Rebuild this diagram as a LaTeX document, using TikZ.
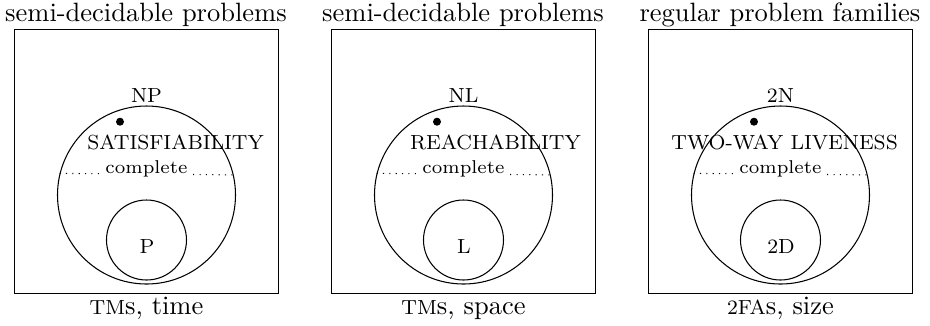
\documentclass[tikz,border=0pt]{standalone}
\font\capsfont=cmr8 at 7.7pt
\begin{document}
\def\u{0.3774pt}
\newcommand\caps[1]{{\capsfont #1}}
\tikzset{
  lbl/.style={inner sep=0pt, anchor=base},
  frame/.style={draw, inner sep=0pt, minimum width=264*\u, minimum height=264*\u},
  bigset/.style={circle, draw, inner sep=0pt, minimum size=178*\u},
  smallset/.style={circle, draw, inner sep=0pt, minimum size=80*\u},
  member/.style={circle, fill=black, inner sep=0pt, minimum size=8*\u},
  cmpl/.style={font=\scriptsize, fill=white, inner sep=1pt, anchor=base},
}
\newcommand\drawpanel[7]{%
  \node[lbl] (title#2) at (#1-0.5,21.5) {#3};
  \node[frame] (box#2) at (#1,161.5) {};
  \node[bigset] (big#2) at (#1,195) {};
  \node[smallset] (small#2) at (#1,240) {};
  \node[member] (dot#2) at (#1-26.5,121.7) {};
  \node[lbl] (up#2) at (#1,102) {\caps{#4}};
  \node[lbl, anchor=base east] (prob#2) at (#1+118,149) {\caps{#5}};
  \draw[dotted] (big#2.166.7) -- (big#2.13.3);
  \node[cmpl] (compl#2) at (#1,173.3) {complete};
  \node[lbl] (low#2) at (#1+0.5,253) {\caps{#6}};
  \node[lbl] (bot#2) at (#1,314) {#7};
}
\begin{tikzpicture}[x=\u, y=-\u]
\useasboundingbox (0,0) rectangle (930,325);
\drawpanel{146.5}{1}{semi-decidable problems}{NP}{SATISFIABILITY}{P}{\caps{TM}s, time}
\drawpanel{463.5}{2}{semi-decidable problems}{NL}{REACHABILITY}{L}{\caps{TM}s, space}
\drawpanel{780.5}{3}{regular problem families}{2N}{TWO-WAY LIVENESS}{2D}{\caps{2FA}s, size}
\end{tikzpicture}
\end{document}
